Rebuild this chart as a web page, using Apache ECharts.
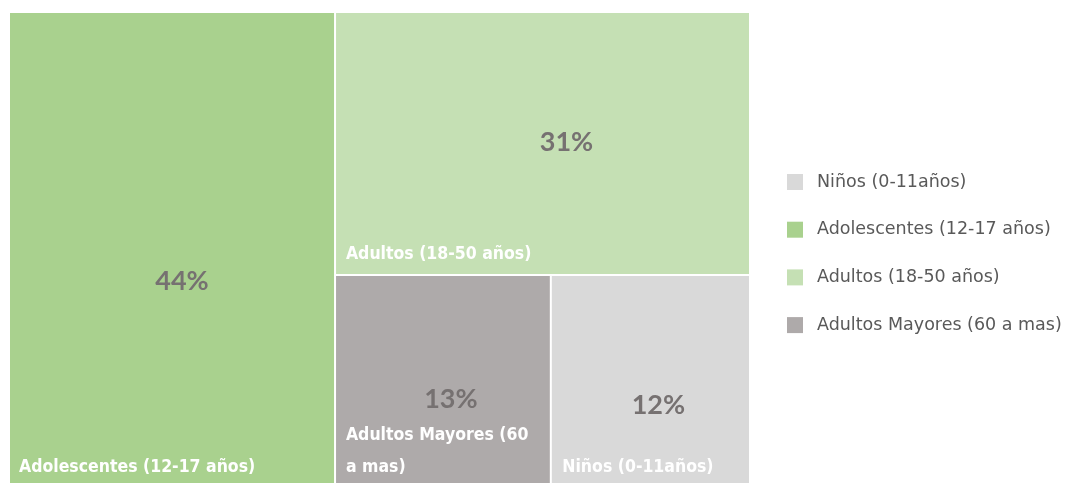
<!DOCTYPE html>
<html>
<head>
<meta charset="utf-8">
<title>Distribución por grupo de edad</title>
<script src="https://cdn.jsdelivr.net/npm/echarts@6/dist/echarts.min.js"></script>
<style>
  html, body { margin: 0; padding: 0; background: #fff; }
  #chart { width: 1068px; height: 483px; }
</style>
</head>
<body>
<div id="chart"></div>
<script>
// categories in legend order
const categories = ['Niños (0-11años)', 'Adolescentes (12-17 años)', 'Adultos (18-50 años)', 'Adultos Mayores (60 a mas)']
// share of each group, percent
const shares = [12, 44, 31, 13]
const colors = ['#D9D9D9', '#A9D18E', '#C5E0B4', '#AEAAAA']
// nudges for the percent labels (they are not centred in the original)
const pctOffsets = [[8, 24], [10, 32], [24, -1], [8, 18]]

const box = { left: 8, top: 11, width: 743, height: 477 }
const nameFont = "'DejaVu Sans Condensed', 'Roboto Condensed', Roboto, sans-serif"

const chart = echarts.init(document.getElementById('chart'))

const pctData = categories.map((name, i) => ({
  name: name,
  value: shares[i],
  itemStyle: { color: colors[i] },
  label: { offset: pctOffsets[i] }
}))
const nameData = categories.map((name, i) => ({
  name: name,
  value: shares[i],
  itemStyle: { color: 'rgba(0,0,0,0)' }
}))

// empty series so the legend has one entry per group
const legendSeries = categories.map((name, i) => ({
  name: name,
  type: 'line',
  data: [],
  itemStyle: { color: colors[i] }
}))

chart.setOption({
  animation: false,
  legend: {
    orient: 'vertical',
    left: 787,
    top: 173,
    padding: 0,
    itemWidth: 16,
    itemHeight: 16,
    itemGap: 29.7,
    icon: 'rect',
    selectedMode: false,
    data: categories.map((name, i) => ({ name: name, itemStyle: { color: colors[i] } })),
    textStyle: {
      fontFamily: 'DejaVu Sans',
      fontSize: 17.5,
      color: '#595959',
      padding: [0, 0, 0, 9]
    }
  },
  grid: { left: 0, top: 0, width: 1, height: 1 },
  xAxis: { type: 'category', show: false },
  yAxis: { type: 'value', show: false },
  series: [
    {
      type: 'treemap',
      name: 'pct',
      ...box,
      squareRatio: 1,
      roam: false,
      nodeClick: false,
      breadcrumb: { show: false },
      itemStyle: { borderColor: '#fff', borderWidth: 1, gapWidth: 0 },
      label: {
        show: true,
        position: 'inside',
        formatter: p => p.value + '%',
        fontFamily: 'Lato',
        fontWeight: 'bold',
        fontSize: 27,
        color: '#767171'
      },
      emphasis: { disabled: true },
      data: pctData
    },
    {
      type: 'treemap',
      name: 'names',
      ...box,
      squareRatio: 1,
      roam: false,
      nodeClick: false,
      silent: true,
      color: ['rgba(0,0,0,0)'],
      breadcrumb: { show: false },
      itemStyle: { color: 'rgba(0,0,0,0)', borderWidth: 0, borderColor: 'rgba(0,0,0,0)', gapWidth: 0 },
      label: {
        show: true,
        position: 'insideBottomLeft',
        distance: 8,
        offset: [3, 3],
        padding: [0, 24, 0, 0],
        overflow: 'break',
        formatter: p => p.name,
        fontFamily: nameFont,
        fontWeight: 'bold',
        fontSize: 17.5,
        lineHeight: 32,
        color: '#fff'
      },
      emphasis: { disabled: true },
      data: nameData
    },
    ...legendSeries
  ]
})
</script>
</body>
</html>
